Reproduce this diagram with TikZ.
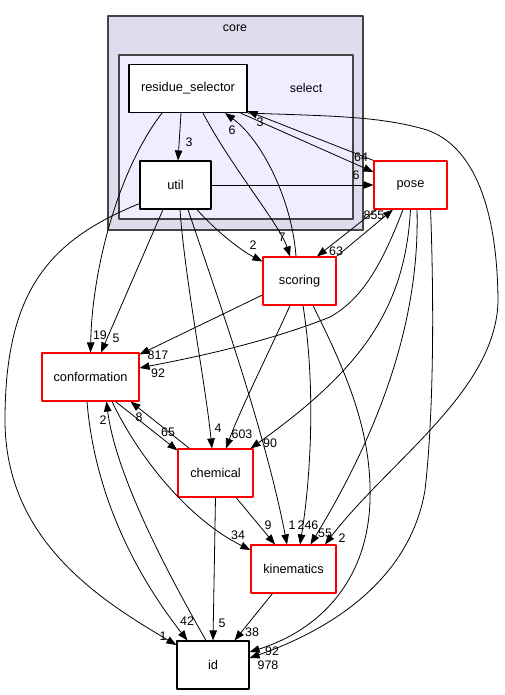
\documentclass[tikz,border=0pt]{standalone}
\usepackage{fontspec}
\setmainfont{Liberation Sans}
\usetikzlibrary{arrows.meta}
\definecolor{corefill}{HTML}{DDDDEE}
\definecolor{selfill}{HTML}{EEEEFF}
\definecolor{clusterline}{HTML}{444444}
\definecolor{dirred}{HTML}{FF0000}
\tikzset{
  dirbox/.style={draw=black,fill=white,line width=1.15pt,minimum height=48pt,inner sep=0pt,
    font=\fontsize{12.8}{15}\selectfont},
  reddir/.style={dirbox,draw=dirred},
  dep/.style={-{Triangle[length=10pt,width=7.5pt]},line width=0.8pt},
  cnt/.style={inner sep=0pt,font=\fontsize{12.4}{14}\selectfont},
}

\begin{document}
\begin{tikzpicture}[x=1pt,y=-1pt,line join=round]
  \useasboundingbox (0,0) rectangle (504,695);
  % clusters core / select
  \draw[fill=corefill,draw=clusterline,line width=1.3pt] (108,16) rectangle (363,230);
  \node[cnt] (corelab) at (235,28) {core};
  \draw[fill=selfill,draw=clusterline,line width=1.3pt] (119,55) rectangle (353,219);
  \node[cnt] (sellab) at (306,88) {select};
  % directories
  \node[dirbox,minimum width=118pt] (rs) at (188,88.5) {residue\_selector};
  \node[dirbox,minimum width=71pt] (util) at (175.5,185) {util};
  \node[reddir,minimum width=73pt] (pose) at (410.5,185) {pose};
  \node[reddir,minimum width=73pt] (scoring) at (299.5,281) {scoring};
  \node[reddir,minimum width=97pt] (conformation) at (90.5,377) {conformation};
  \node[reddir,minimum width=75pt] (chemical) at (215.5,473) {chemical};
  \node[reddir,minimum width=85pt] (kinematics) at (293.5,569) {kinematics};
  \node[dirbox,minimum width=72pt] (id) at (213,665) {id};
  % dependencies out of select
  \draw[dep] ([xshift=-7pt]rs.south) -- ([xshift=2.5pt]util.north);
  \draw[dep] ([xshift=-7pt]rs.south east) -- ([yshift=13pt]pose.west);
  \draw[dep] (pose.north west) -- ([yshift=2pt]rs.south east);
  \draw[dep] (util.east) -- (pose.west);
  \draw[dep] ([xshift=15pt]rs.south) .. controls (230,165) and (280,225) .. ([xshift=-9.5pt]scoring.north);
  \draw[dep] ([xshift=-3.5pt]scoring.north) .. controls (292,200) and (262,140) .. ([xshift=37pt]rs.south);
  \draw[dep] (rs.south east) .. controls (330,116) and (380,116) .. (427,130)
    .. controls (470,145) and (497,200) .. (498,300)
    .. controls (497,390) and (390,460) .. ([xshift=31.5pt]kinematics.north);
  \draw[dep] ([xshift=-26pt]rs.south) .. controls (118,170) and (92,270) .. (conformation.north);
  \draw[dep] ([xshift=-12.5pt]util.south) -- ([xshift=10.5pt]conformation.north);
  \draw[dep] ([yshift=6pt]util.south west) .. controls (50,240) and (5,290) .. (5,420)
    .. controls (5,540) and (100,600) .. ([yshift=20pt]id.west);
  \draw[dep] ([xshift=4.5pt]util.south) .. controls (185,280) and (205,380) .. ([xshift=-3.5pt]chemical.north);
  \draw[dep] ([xshift=12.5pt]util.south) .. controls (215,290) and (265,430) .. ([xshift=-6.5pt]kinematics.north);
  \draw[dep] ([xshift=21.5pt]util.south) .. controls (215,230) and (240,250) .. ([yshift=-5pt]scoring.north west);
  % pose and scoring
  \draw[dep] ([xshift=3pt]pose.south west) -- ([xshift=17.5pt]scoring.north);
  \draw[dep] (scoring.north east) -- ([xshift=-17.5pt]pose.south);
  \draw[dep] ([yshift=-14pt]scoring.west) -- ([yshift=-2pt]conformation.north east);
  \draw[dep] ([xshift=-7.5pt]pose.south) .. controls (380,270) and (360,300) .. (330,317)
    .. controls (260,345) and (180,360) .. ([yshift=9pt]conformation.east);
  \draw[dep] ([xshift=-9.5pt]scoring.south) .. controls (270,350) and (240,410) .. ([xshift=10.5pt]chemical.north);
  \draw[dep] (pose.south) .. controls (405,310) and (360,370) .. ([xshift=-3pt]chemical.north east);
  \draw[dep] ([xshift=6.5pt]pose.south) .. controls (420,320) and (380,430) .. ([xshift=17pt]kinematics.north);
  \draw[dep] ([xshift=-17pt]pose.south east) .. controls (435,330) and (432,430) .. (425,490)
    .. controls (410,580) and (330,630) .. ([yshift=7pt]id.east);
  \draw[dep] ([xshift=13.5pt]scoring.south) .. controls (345,370) and (372,430) .. (370,500)
    .. controls (368,580) and (320,630) .. ([yshift=13pt]id.east);
  \draw[dep] ([xshift=3.5pt]scoring.south) .. controls (315,380) and (312,470) .. ([xshift=6.5pt]kinematics.north);
  % lower part
  \draw[dep] ([xshift=-24pt]conformation.south east) -- ([yshift=-2pt]chemical.north west);
  \draw[dep] ([xshift=12pt]chemical.north west) -- ([xshift=-9pt]conformation.south east);
  \draw[dep] ([xshift=-3.5pt]conformation.south) .. controls (95,500) and (140,580) .. ([xshift=11pt]id.north west);
  \draw[dep] ([xshift=-7pt]id.north) .. controls (160,560) and (115,470) .. ([xshift=16pt]conformation.south);
  \draw[dep] ([xshift=21.5pt]conformation.south) .. controls (140,460) and (190,520) .. ([yshift=19pt]kinematics.west);
  \draw[dep] (chemical.south) -- (id.north);
  \draw[dep] ([xshift=-17.5pt]chemical.south east) -- ([xshift=-18.5pt]kinematics.north);
  \draw[dep] ([xshift=22pt]kinematics.south west) -- ([xshift=-15pt]id.north east);
  % counts at the heads
  \foreach \x/\y/\t [count=\i] in {189/142/3, 361/157/64, 260/122/3, 356/175/6, 282/237/7,
      232/130/6, 342/538/2, 100/335/19, 116/338/5, 163/636/1, 218/428/4, 292/525/1,
      253/245/2, 336/251/63, 374/215/855, 158/355/817, 158/373/92, 242/434/603, 270/443/90,
      325/533/55, 268/665/978, 272/651/92, 168/432/65, 139/417/8, 187/621/42, 103/420/2,
      238/535/34, 222/623/5, 268/525/9, 308/525/246, 252/632/38}
    \node[cnt] (lab\i) at (\x,\y) {\t};
\end{tikzpicture}
\end{document}
